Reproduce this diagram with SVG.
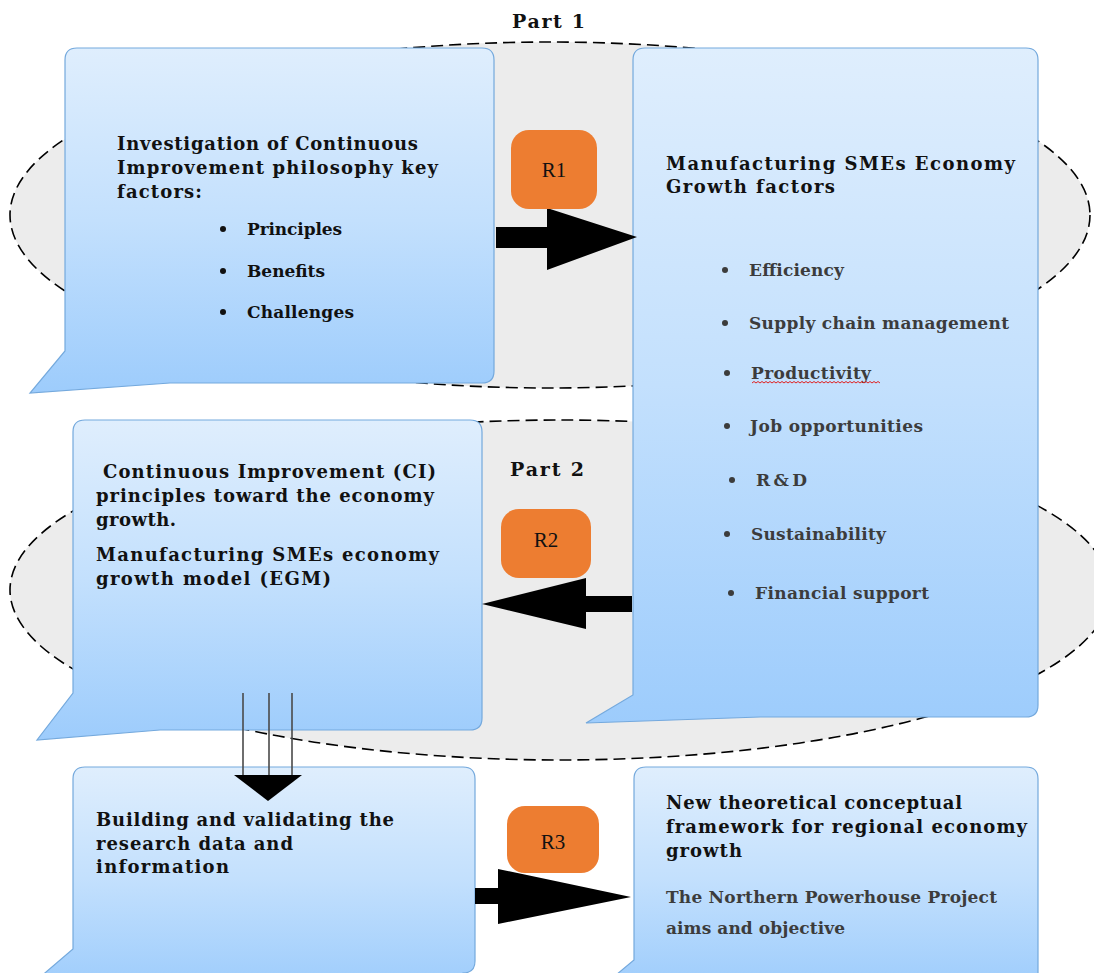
<svg xmlns="http://www.w3.org/2000/svg" width="1094" height="973" viewBox="0 0 1094 973">
  <defs>
    <linearGradient id="boxFill" x1="0" y1="0" x2="0" y2="1">
      <stop offset="0" stop-color="#dfeefd"/>
      <stop offset="0.5" stop-color="#c3e0fd"/>
      <stop offset="1" stop-color="#9dccfc"/>
    </linearGradient>
    <style>
      .zone { fill: #ececec; stroke: #000; stroke-width: 1.6; stroke-dasharray: 12 6; }
      .box { fill: url(#boxFill); stroke: #74a9dd; stroke-width: 1.2; }
      .tag { fill: #ed7d31; }
      .tagtxt { font-family: "Liberation Serif", "Times New Roman", serif; font-size: 21px; fill: #111; text-anchor: middle; }
      .t { font-family: "DejaVu Serif", "Liberation Serif", serif; font-weight: bold; font-size: 17px; fill: #111; }
      .h { font-size: 18px; }
      .g { fill: #3c3c3c; }
      .part { font-family: "DejaVu Serif", "Liberation Serif", serif; font-weight: bold; font-size: 19px; fill: #111; }
      .bullet { fill: #111; }
      .arrow { fill: #000; }
      .shaft { stroke: #4a4a4a; stroke-width: 1.6; }
    </style>
  </defs>

  <!-- dashed zones -->
  <g id="zones">
    <ellipse class="zone" cx="550" cy="215" rx="540" ry="173"/>
    <ellipse class="zone" cx="560" cy="590" rx="550" ry="170"/>
    <text class="part" x="512" y="28" textLength="73">Part 1</text>
  </g>

  <!-- Part 1: CI investigation -->
  <g id="ci-factors">
    <path class="box" d="M77 48 H482 Q494 48 494 60 V371 Q494 383 482 383 H170 L30 393 L65 351 V60 Q65 48 77 48 Z"/>
    <text class="t h" x="117" y="150" textLength="301">Investigation of Continuous</text>
    <text class="t h" x="117" y="174" textLength="321">Improvement philosophy key</text>
    <text class="t h" x="117" y="198" textLength="85">factors:</text>
    <circle class="bullet" cx="223" cy="229" r="3"/>
    <text class="t" x="247" y="235" textLength="95">Principles</text>
    <circle class="bullet" cx="223" cy="271" r="3"/>
    <text class="t" x="247" y="277" textLength="78">Benefits</text>
    <circle class="bullet" cx="223" cy="312" r="3"/>
    <text class="t" x="247" y="318" textLength="107">Challenges</text>
  </g>

  <!-- SME growth factors -->
  <g id="sme-factors">
    <path class="box" d="M645 48 H1026 Q1038 48 1038 60 V705 Q1038 717 1026 717 H760 L586 723 L633 695 V60 Q633 48 645 48 Z"/>
    <text class="t h" x="666" y="170" textLength="349">Manufacturing SMEs Economy</text>
    <text class="t h" x="666" y="193" textLength="169">Growth factors</text>
    <g class="t g">
      <circle cx="725" cy="270" r="3"/>
      <text x="749" y="276" textLength="95">Efficiency</text>
      <circle cx="725" cy="323" r="3"/>
      <text x="749" y="329" textLength="260">Supply chain management</text>
      <circle cx="727" cy="373" r="3"/>
      <text x="751" y="379" textLength="120">Productivity</text>
      <circle cx="727" cy="426" r="3"/>
      <text x="750" y="432" textLength="173">Job opportunities</text>
      <circle cx="732" cy="480" r="3"/>
      <text x="756" y="486" textLength="51">R&amp;D</text>
      <circle cx="727" cy="534" r="3"/>
      <text x="751" y="540" textLength="135">Sustainability</text>
      <circle cx="731" cy="593" r="3"/>
      <text x="755" y="599" textLength="174">Financial support</text>
    </g>
    <path d="M752 383 l2 -1.5 l2 1.5 l2 -1.5 l2 1.5 l2 -1.5 l2 1.5 l2 -1.5 l2 1.5 l2 -1.5 l2 1.5 l2 -1.5 l2 1.5 l2 -1.5 l2 1.5 l2 -1.5 l2 1.5 l2 -1.5 l2 1.5 l2 -1.5 l2 1.5 l2 -1.5 l2 1.5 l2 -1.5 l2 1.5 l2 -1.5 l2 1.5 l2 -1.5 l2 1.5 l2 -1.5 l2 1.5 l2 -1.5 l2 1.5 l2 -1.5 l2 1.5 l2 -1.5 l2 1.5 l2 -1.5 l2 1.5 l2 -1.5 l2 1.5 l2 -1.5 l2 1.5 l2 -1.5 l2 1.5 l2 -1.5 l2 1.5 l2 -1.5 l2 1.5 l2 -1.5 l2 1.5 l2 -1.5 l2 1.5 l2 -1.5 l2 1.5 l2 -1.5 l2 1.5 l2 -1.5 l2 1.5 l2 -1.5 l2 1.5 l2 -1.5 l2 1.5 l2 -1.5 l2 1.5" fill="none" stroke="#e02020" stroke-width="1"/>
  </g>

  <!-- Part 2: CI principles / EGM -->
  <g id="egm">
    <path class="box" d="M85 420 H470 Q482 420 482 432 V718 Q482 730 470 730 H160 L37 740 L73 693 V432 Q73 420 85 420 Z"/>
    <text class="part" x="510" y="476" textLength="74">Part 2</text>
    <text class="t h" x="103" y="478" textLength="333">Continuous Improvement (CI)</text>
    <text class="t h" x="96" y="502" textLength="338">principles toward the economy</text>
    <text class="t h" x="96" y="526" textLength="80">growth.</text>
    <text class="t h" x="96" y="561" textLength="343">Manufacturing SMEs economy</text>
    <text class="t h" x="96" y="585" textLength="235">growth model (EGM)</text>
  </g>

  <!-- research data -->
  <g id="research-data">
    <path class="box" d="M85 767 H463 Q475 767 475 779 V961 Q475 973 463 973 V990 H25 L73 949 V779 Q73 767 85 767 Z"/>
    <text class="t h" x="96" y="826" textLength="298">Building and validating the</text>
    <text class="t h" x="96" y="850" textLength="197">research data and</text>
    <text class="t h" x="96" y="873" textLength="133">information</text>
  </g>

  <!-- new framework -->
  <g id="framework">
    <path class="box" d="M646 767 H1026 Q1038 767 1038 779 V990 H598 L634 960 V779 Q634 767 646 767 Z"/>
    <text class="t h" x="666" y="809" textLength="296">New theoretical conceptual</text>
    <text class="t h" x="666" y="833" textLength="361">framework for regional economy</text>
    <text class="t h" x="666" y="857" textLength="76">growth</text>
    <text class="t g" x="666" y="903" font-size="16" textLength="331">The Northern Powerhouse Project</text>
    <text class="t g" x="666" y="934" font-size="16" textLength="179">aims and objective</text>
  </g>

  <!-- connectors -->
  <g id="connectors">
    <g id="r1">
      <path class="arrow" d="M496 227 H547 V208 L637 237 L547 270 V248 H496 Z"/>
      <rect class="tag" x="511" y="130" width="86" height="79" rx="18"/>
      <text class="tagtxt" x="554" y="177">R1</text>
    </g>
    <g id="r2">
      <path class="arrow" d="M632 596 H586 V578 L482 604 L586 629 V612 H632 Z"/>
      <rect class="tag" x="501" y="509" width="90" height="69" rx="18"/>
      <text class="tagtxt" x="546" y="547">R2</text>
    </g>
    <g id="r3">
      <path class="arrow" d="M475 888 H498 V869 L631 897 L498 924 V904 H475 Z"/>
      <rect class="tag" x="507" y="806" width="92" height="67" rx="18"/>
      <text class="tagtxt" x="553" y="849">R3</text>
    </g>
    <g id="down">
      <line class="shaft" x1="243" y1="693" x2="243" y2="776"/>
      <line class="shaft" x1="269" y1="693" x2="269" y2="776"/>
      <line class="shaft" x1="292" y1="693" x2="292" y2="776"/>
      <path class="arrow" d="M234 775 H302 L268 801 Z"/>
    </g>
  </g>
</svg>
